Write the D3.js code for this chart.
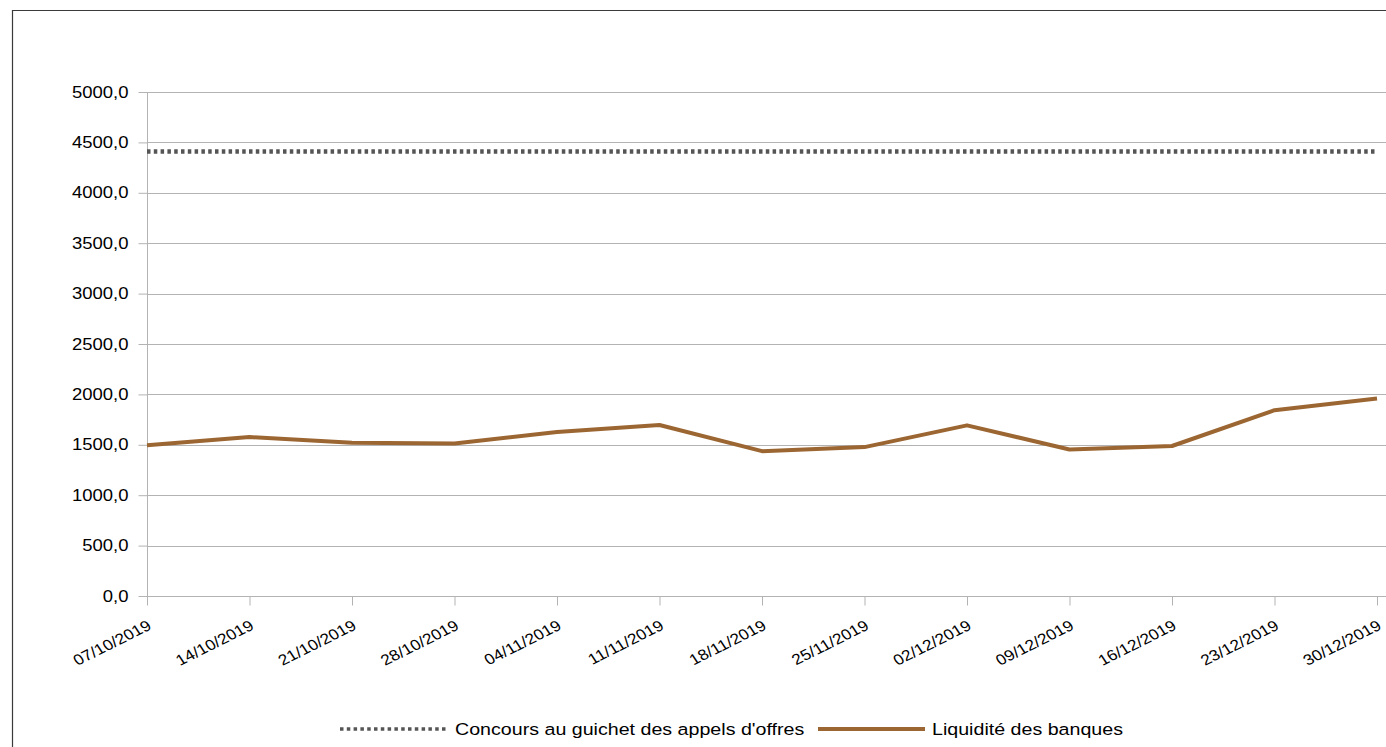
<!DOCTYPE html>
<html><head><meta charset="utf-8">
<script src="https://cdn.jsdelivr.net/npm/d3@7"></script>
<style>
html,body{margin:0;padding:0;background:#fff;}
svg{display:block;font-family:"Liberation Sans",Arial,sans-serif;}
</style></head>
<body>
<svg id="chart" width="1386" height="747"></svg>
<script>
const categories = ["07/10/2019","14/10/2019","21/10/2019","28/10/2019","04/11/2019","11/11/2019","18/11/2019","25/11/2019","02/12/2019","09/12/2019","16/12/2019","23/12/2019","30/12/2019"];
const concoursValues = [4410,4410,4410,4410,4410,4410,4410,4410,4410,4410,4410,4410,4410];
const liquiditeValues = [1495,1577,1520,1512,1628,1697,1437,1477,1693,1453,1488,1843,1960];
const yTicks = [0,500,1000,1500,2000,2500,3000,3500,4000,4500,5000];
const seriesNames = ["Concours au guichet des appels d'offres","Liquidité des banques"];

const svg = d3.select("#chart");
const W = 1386, H = 747;
const pLeft = 147, pRight = 1377, pTop = 92, pBottom = 596;
const SX = 1.155; // horizontal stretch of text in the reference

// frame
svg.append("path").attr("d", `M12.5,${H} L12.5,10.5 L${W},10.5`).attr("fill","none").attr("stroke","#3a3a3a").attr("stroke-width",1.2);

const x = d3.scalePoint().domain(categories).range([pLeft, pRight]);
const y = d3.scaleLinear().domain([0,5000]).range([pBottom, pTop]);

const grid = "#b3b3b3";
// gridlines
svg.append("g").selectAll("line").data(yTicks).join("line")
  .attr("x1", pLeft).attr("x2", W)
  .attr("y1", d => Math.round(y(d))+0.5).attr("y2", d => Math.round(y(d))+0.5)
  .attr("stroke", grid).attr("stroke-width",1);

// y axis
const yAxis = svg.append("g").attr("transform", `translate(${pLeft+0.5},0)`)
  .call(d3.axisLeft(y).tickValues(yTicks).tickSize(9).tickPadding(9).tickFormat(d => d3.format(".1f")(d).replace(".",",")));
yAxis.select(".domain").attr("stroke", grid).attr("d", `M0,${pTop} V${pBottom+9}`);
yAxis.selectAll(".tick line").attr("stroke", grid);
yAxis.selectAll(".tick text").attr("fill","#000").style("font-size","16px").style("font-family","Liberation Sans, Arial, sans-serif")
  .attr("x",0).attr("transform",`translate(-19,0) scale(${SX},1)`);

// x axis
const xAxis = svg.append("g").attr("transform", `translate(0,${Math.round(pBottom)+0.5})`)
  .call(d3.axisBottom(x).tickSize(9).tickSizeOuter(0));
xAxis.select(".domain").attr("stroke", grid).attr("d", `M${pLeft},0 H${W}`);
xAxis.selectAll(".tick line").attr("stroke", grid);
xAxis.selectAll(".tick text")
  .attr("fill","#000").style("font-size","15px").style("font-family","Liberation Sans, Arial, sans-serif")
  .attr("text-anchor","end").attr("dy",null).attr("y",0)
  .attr("transform",`translate(5,32) scale(${SX},1) rotate(-30)`);

// series
const line = d3.line().x((d,i) => x(categories[i])).y(d => y(d));
svg.append("path").datum(concoursValues).attr("d", line)
  .attr("fill","none").attr("stroke","#555555").attr("stroke-width",4.5).attr("stroke-dasharray","3.5,3.3");
svg.append("path").datum(liquiditeValues).attr("d", line)
  .attr("fill","none").attr("stroke","#9c6632").attr("stroke-width",4).attr("stroke-linejoin","round");

// legend
const lg = svg.append("g");
lg.append("line").attr("x1",340).attr("x2",447).attr("y1",729).attr("y2",729)
  .attr("stroke","#555555").attr("stroke-width",3.5).attr("stroke-dasharray","3.5,3.3");
lg.append("text").attr("transform",`translate(455,735) scale(${SX},1)`).style("font-size","17px").text(seriesNames[0]);
lg.append("line").attr("x1",818).attr("x2",925).attr("y1",729).attr("y2",729)
  .attr("stroke","#9c6632").attr("stroke-width",4);
lg.append("text").attr("transform",`translate(932,735) scale(${SX},1)`).style("font-size","17px").text(seriesNames[1]);
</script>
</body></html>
